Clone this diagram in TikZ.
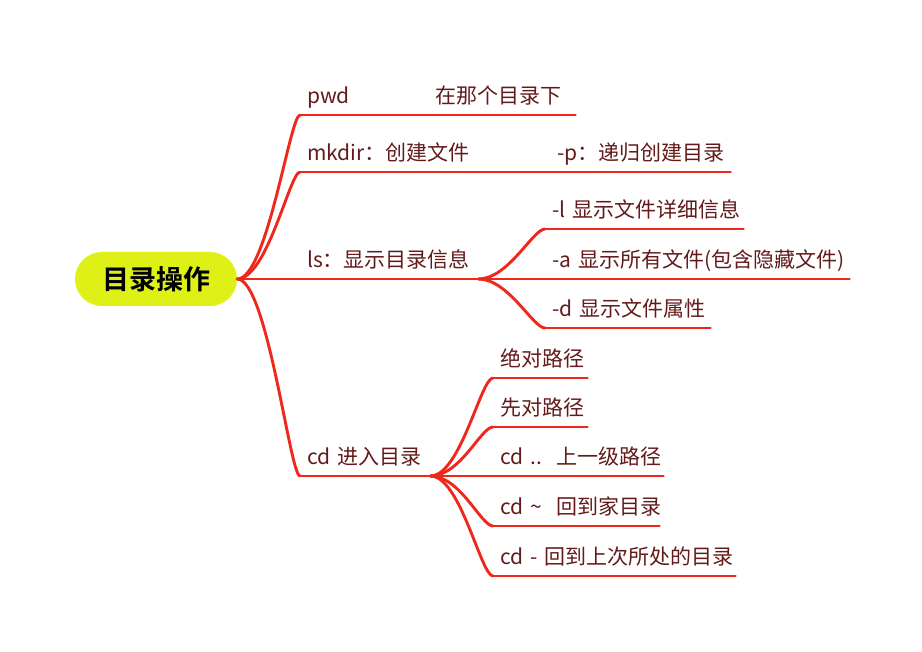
\documentclass[tikz,border=0pt]{standalone}
\usepackage{fontspec}
\setmainfont{Noto Sans CJK SC}[BoldFont={* Bold}]
\usepackage{tikz}
\usetikzlibrary{shapes.misc}

\definecolor{branchred}{RGB}{238,40,28}
\definecolor{topictext}{RGB}{98,26,26}
\definecolor{rootfill}{RGB}{222,240,22}

\tikzset{
  branch/.style={draw=branchred, line width=2.9pt, line cap=round},
  topic/.style={anchor=south west, inner xsep=7pt, inner ysep=6.5pt,
    text height=15pt, text depth=5pt, align=left, text=topictext,
    font=\fontsize{21}{25}\selectfont},
  roottopic/.style={rounded rectangle, fill=rootfill, minimum width=162pt,
    minimum height=54pt, inner sep=0pt, font=\fontsize{27}{30}\selectfont\bfseries}
}

\begin{document}
\begin{tikzpicture}[x=1pt, y=-1pt]

\useasboundingbox (0,0) rectangle (922,652);  % page as the reference

\node[roottopic] (root) at (156,279) {目录操作};

% first level
\node[topic, text width=48pt]  (pwd)   at (300,115) {pwd};
\node[topic, text width=169pt] (mkdir) at (300,172) {mkdir：创建文件};
\node[topic, text width=164pt] (ls)    at (300,279) {ls：显示目录信息};
\node[topic, text width=116pt] (cd)    at (300,476) {cd~进入目录};

% second level
\node[topic, text width=133pt] (pwdsub)   at (428,115) {在那个目录下};
\node[topic, text width=166pt] (mkdirsub) at (550,172) {\mbox{-p：递归创建目录}};
\node[topic, text width=184pt] (lsl) at (545,229) {\mbox{-l~显示文件详细信息}};
\node[topic, text width=290pt] (lsa) at (545,279) {\mbox{-a~显示所有文件(包含隐藏文件)}};
\node[topic, text width=151pt] (lsd) at (545,328) {\mbox{-d~显示文件属性}};
\node[topic, text width=80pt]  (cdabs)  at (493,378) {绝对路径};
\node[topic, text width=80pt]  (cdrel)  at (493,427) {先对路径};
\node[topic, text width=156pt] (cdup)   at (493,476) {cd~..~~上一级路径};
\node[topic, text width=152pt] (cdhome) at (493,526) {cd~\textasciitilde~~回到家目录};
\node[topic, text width=228pt] (cdback) at (493,576) {\mbox{cd~-~回到上次所处的目录}};

% underlines
\foreach \n in {pwd,mkdir,ls,cd,pwdsub,mkdirsub,lsl,lsa,lsd,cdabs,cdrel,cdup,cdhome,cdback}
    \draw[branch] (\n.south west) -- (\n.south east);

% connectors
\foreach \n in {pwd,mkdir,ls,cd}
    \draw[branch] (root.east) .. controls +(30,0) and +(-10,0) .. (\n.south west);
\foreach \n in {lsl,lsa,lsd}
    \draw[branch] (ls.south east) .. controls +(30,0) and +(-12,0) .. (\n.south west);
\foreach \n in {cdabs,cdrel,cdup,cdhome,cdback}
    \draw[branch] (cd.south east) .. controls +(30,0) and +(-12,0) .. (\n.south west);
\draw[branch] (pwd.south east) -- (pwdsub.south west);
\draw[branch] (mkdir.south east) -- (mkdirsub.south west);

\end{tikzpicture}
\end{document}
